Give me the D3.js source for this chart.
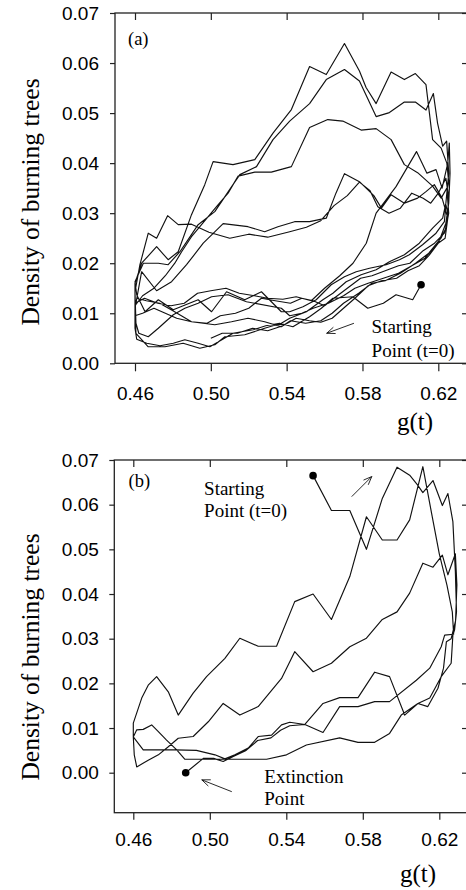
<!DOCTYPE html>
<html>
<head>
<meta charset="utf-8">
<script src="https://d3js.org/d3.v7.min.js"></script>
<style>
body { margin: 0; background: #fff; }
svg { display: block; }
</style>
</head>
<body>
<svg id="chart" width="466" height="890"></svg>
<script>
// axis ticks
var xTicks = [0.46, 0.50, 0.54, 0.58, 0.62];
var yTicks = [0.00, 0.01, 0.02, 0.03, 0.04, 0.05, 0.06, 0.07];

// panel (a): trajectory pieces [g(t), density], in drawing order
var aStart = [[0.6109,0.0157],[0.6065,0.0127],[0.5977,0.0137],[0.5910,0.0120],[0.5828,0.0110],[0.5749,0.0133],[0.5644,0.0130],[0.5583,0.0110],[0.5521,0.0093],[0.5433,0.0073],[0.5363,0.0080],[0.5290,0.0075],[0.5223,0.0067],[0.5117,0.0060],[0.4995,0.0033],[0.4933,0.0040],[0.4863,0.0047],[0.4802,0.0040],[0.4732,0.0035],[0.4662,0.0040],[0.4609,0.0048],[0.4600,0.0070]];
var aLoop1 = [[0.4600,0.0110],[0.4600,0.0160],[0.4635,0.0200],[0.4714,0.0233],[0.4775,0.0207],[0.4828,0.0223],[0.4898,0.0297],[0.4968,0.0357],[0.5012,0.0403],[0.5117,0.0397],[0.5232,0.0407],[0.5328,0.0460],[0.5425,0.0507],[0.5521,0.0593],[0.5609,0.0577],[0.5705,0.0639],[0.5784,0.0584],[0.5819,0.0551],[0.5872,0.0519],[0.5951,0.0582],[0.6021,0.0567],[0.6079,0.0579],[0.6135,0.0557],[0.6170,0.0447],[0.6215,0.0430],[0.6245,0.0400],[0.6258,0.0350],[0.6250,0.0300]];
var aBack1 = [[0.6240,0.0317],[0.6232,0.0283],[0.6188,0.0260],[0.6117,0.0237],[0.6047,0.0217],[0.5995,0.0207],[0.5925,0.0197],[0.5837,0.0190],[0.5767,0.0183],[0.5705,0.0173],[0.5635,0.0157],[0.5556,0.0127],[0.5486,0.0113],[0.5416,0.0103],[0.5372,0.0103],[0.5267,0.0143],[0.5179,0.0127],[0.5083,0.0143],[0.5004,0.0103],[0.4933,0.0127],[0.4802,0.0107],[0.4723,0.0127],[0.4653,0.0103],[0.4609,0.0137]];
var aLoop2 = [[0.4600,0.0163],[0.4644,0.0200],[0.4723,0.0200],[0.4775,0.0197],[0.4837,0.0223],[0.4933,0.0277],[0.5021,0.0303],[0.5117,0.0357],[0.5153,0.0377],[0.5241,0.0393],[0.5328,0.0447],[0.5416,0.0484],[0.5521,0.0519],[0.5609,0.0567],[0.5705,0.0587],[0.5784,0.0564],[0.5872,0.0493],[0.5942,0.0501],[0.6021,0.0522],[0.6079,0.0522],[0.6135,0.0506],[0.6174,0.0539],[0.6196,0.0480],[0.6223,0.0434],[0.6244,0.0444],[0.6255,0.0380],[0.6240,0.0320],[0.6223,0.0290]];
var aBack2 = [[0.6170,0.0270],[0.6100,0.0240],[0.6021,0.0217],[0.5942,0.0203],[0.5872,0.0187],[0.5793,0.0177],[0.5714,0.0163],[0.5644,0.0140],[0.5591,0.0127],[0.5504,0.0103],[0.5416,0.0090],[0.5372,0.0080],[0.5284,0.0070],[0.5179,0.0057],[0.5074,0.0053],[0.5021,0.0037],[0.4942,0.0030],[0.4854,0.0040],[0.4758,0.0033],[0.4670,0.0033],[0.4605,0.0060]];
var aLoop3 = [[0.4600,0.0115],[0.4640,0.0135],[0.4700,0.0150],[0.4760,0.0175],[0.4810,0.0200],[0.4846,0.0223],[0.4898,0.0253],[0.4951,0.0277],[0.5030,0.0313],[0.5091,0.0340],[0.5144,0.0374],[0.5232,0.0382],[0.5319,0.0382],[0.5425,0.0393],[0.5521,0.0471],[0.5617,0.0487],[0.5696,0.0484],[0.5793,0.0466],[0.5872,0.0469],[0.5951,0.0447],[0.6021,0.0397],[0.6091,0.0381],[0.6170,0.0354],[0.6215,0.0330],[0.6245,0.0350],[0.6255,0.0300],[0.6240,0.0270]];
var aBack3 = [[0.6214,0.0250],[0.6150,0.0220],[0.6080,0.0200],[0.6000,0.0180],[0.5920,0.0165],[0.5850,0.0160],[0.5780,0.0140],[0.5700,0.0120],[0.5640,0.0100],[0.5580,0.0085],[0.5500,0.0080],[0.5420,0.0085],[0.5372,0.0073],[0.5284,0.0083],[0.5196,0.0090],[0.5109,0.0083],[0.5021,0.0077],[0.4898,0.0083],[0.4800,0.0105],[0.4730,0.0120],[0.4660,0.0125],[0.4610,0.0130]];
var aLoop4 = [[0.4600,0.0110],[0.4635,0.0183],[0.4714,0.0145],[0.4793,0.0163],[0.4872,0.0197],[0.4960,0.0240],[0.5065,0.0279],[0.5196,0.0273],[0.5284,0.0263],[0.5354,0.0273],[0.5442,0.0283],[0.5521,0.0283],[0.5609,0.0290],[0.5660,0.0340],[0.5705,0.0379],[0.5784,0.0363],[0.5860,0.0335],[0.5900,0.0310],[0.5951,0.0337],[0.6021,0.0320],[0.6091,0.0330],[0.6135,0.0343],[0.6179,0.0357],[0.6220,0.0330],[0.6250,0.0290],[0.6236,0.0250]];
var aBack4 = [[0.6188,0.0237],[0.6130,0.0210],[0.6060,0.0195],[0.5990,0.0180],[0.5910,0.0170],[0.5830,0.0160],[0.5760,0.0150],[0.5700,0.0135],[0.5620,0.0120],[0.5540,0.0110],[0.5480,0.0100],[0.5416,0.0095],[0.5372,0.0110],[0.5188,0.0123],[0.5091,0.0137],[0.5004,0.0133],[0.4933,0.0120],[0.4863,0.0110],[0.4802,0.0097],[0.4723,0.0070],[0.4670,0.0053],[0.4620,0.0060],[0.4605,0.0080]];
var aLoop5 = [[0.4600,0.0143],[0.4626,0.0197],[0.4670,0.0260],[0.4714,0.0250],[0.4772,0.0295],[0.4828,0.0277],[0.4898,0.0278],[0.4990,0.0262],[0.5100,0.0250],[0.5200,0.0258],[0.5300,0.0252],[0.5416,0.0263],[0.5504,0.0272],[0.5580,0.0285],[0.5650,0.0315],[0.5720,0.0335],[0.5784,0.0362],[0.5840,0.0345],[0.5881,0.0313],[0.5940,0.0300],[0.6000,0.0310],[0.6060,0.0340],[0.6120,0.0330],[0.6160,0.0320],[0.6200,0.0340],[0.6240,0.0370],[0.6255,0.0330],[0.6245,0.0280]];
var aBack5 = [[0.6232,0.0260],[0.6180,0.0240],[0.6120,0.0225],[0.6050,0.0200],[0.5990,0.0195],[0.5920,0.0185],[0.5850,0.0175],[0.5790,0.0170],[0.5720,0.0150],[0.5650,0.0130],[0.5600,0.0115],[0.5540,0.0125],[0.5480,0.0130],[0.5420,0.0120],[0.5340,0.0125],[0.5267,0.0130],[0.5200,0.0110],[0.5130,0.0100],[0.5050,0.0095],[0.4980,0.0080],[0.4898,0.0083],[0.4820,0.0090],[0.4760,0.0100],[0.4700,0.0110],[0.4640,0.0100],[0.4600,0.0095]];
var aLoop6 = [[0.4600,0.0120],[0.4650,0.0130],[0.4720,0.0120],[0.4790,0.0115],[0.4860,0.0120],[0.4930,0.0140],[0.5000,0.0145],[0.5080,0.0150],[0.5150,0.0140],[0.5230,0.0135],[0.5300,0.0130],[0.5380,0.0128],[0.5450,0.0133],[0.5530,0.0125],[0.5600,0.0150],[0.5680,0.0175],[0.5750,0.0200],[0.5820,0.0240],[0.5872,0.0300],[0.5977,0.0353],[0.6085,0.0423],[0.6140,0.0380],[0.6188,0.0387],[0.6220,0.0350],[0.6250,0.0400],[0.6258,0.0440],[0.6262,0.0380],[0.6255,0.0320],[0.6240,0.0280]];
var aBack6 = [[0.6200,0.0240],[0.6150,0.0215],[0.6100,0.0195],[0.6040,0.0185],[0.5980,0.0170],[0.5900,0.0165],[0.5830,0.0155],[0.5760,0.0130],[0.5700,0.0110],[0.5640,0.0090],[0.5580,0.0082],[0.5520,0.0085],[0.5450,0.0090],[0.5380,0.0075],[0.5300,0.0065],[0.5220,0.0070],[0.5140,0.0060],[0.5060,0.0060],[0.5000,0.0050]];

// panel (b): trajectory pieces, start point to extinction
var bLoop1 = [[0.5540,0.0665],[0.5636,0.0587],[0.5732,0.0587],[0.5819,0.0500],[0.5902,0.0614],[0.5979,0.0684],[0.6045,0.0666],[0.6085,0.0645],[0.6114,0.0627],[0.6167,0.0654],[0.6216,0.0598],[0.6245,0.0625],[0.6271,0.0562],[0.6284,0.0450],[0.6290,0.0360],[0.6280,0.0320]];
var bBack1 = [[0.6271,0.0308],[0.6262,0.0245],[0.6210,0.0215],[0.6150,0.0167],[0.6088,0.0155],[0.6001,0.0129],[0.5940,0.0088],[0.5862,0.0068],[0.5775,0.0068],[0.5679,0.0078],[0.5505,0.0062],[0.5401,0.0040],[0.5297,0.0030],[0.4870,0.0030],[0.4827,0.0051],[0.4774,0.0073],[0.4731,0.0092],[0.4696,0.0107],[0.4652,0.0097],[0.4618,0.0096],[0.4600,0.0080]];
var bLoop2 = [[0.4600,0.0111],[0.4644,0.0167],[0.4678,0.0196],[0.4722,0.0215],[0.4783,0.0181],[0.4835,0.0129],[0.4913,0.0178],[0.4983,0.0215],[0.5079,0.0256],[0.5157,0.0301],[0.5253,0.0283],[0.5349,0.0283],[0.5444,0.0383],[0.5540,0.0400],[0.5636,0.0343],[0.5732,0.0439],[0.5819,0.0573],[0.5902,0.0521],[0.5979,0.0521],[0.6045,0.0566],[0.6114,0.0685],[0.6160,0.0580],[0.6200,0.0490],[0.6240,0.0420],[0.6268,0.0360],[0.6275,0.0310]];
var bBack2 = [[0.6228,0.0308],[0.6210,0.0282],[0.6150,0.0234],[0.6080,0.0207],[0.5940,0.0159],[0.5862,0.0159],[0.5775,0.0148],[0.5679,0.0148],[0.5592,0.0090],[0.5497,0.0108],[0.5418,0.0113],[0.5375,0.0107],[0.5323,0.0084],[0.5253,0.0081],[0.5201,0.0055],[0.5131,0.0040],[0.5079,0.0031],[0.5027,0.0040],[0.4930,0.0050],[0.4818,0.0051],[0.4652,0.0051],[0.4600,0.0080],[0.4605,0.0040],[0.4618,0.0013]];
var bLoop3 = [[0.4678,0.0028],[0.4731,0.0040],[0.4783,0.0058],[0.4835,0.0077],[0.4913,0.0081],[0.4992,0.0114],[0.5070,0.0155],[0.5157,0.0129],[0.5253,0.0148],[0.5375,0.0211],[0.5444,0.0271],[0.5540,0.0226],[0.5636,0.0245],[0.5732,0.0282],[0.5819,0.0301],[0.5902,0.0343],[0.5979,0.0360],[0.6045,0.0402],[0.6114,0.0469],[0.6167,0.0460],[0.6216,0.0487],[0.6245,0.0443],[0.6284,0.0490],[0.6292,0.0420],[0.6285,0.0340],[0.6262,0.0300]];
var bBack3 = [[0.6237,0.0293],[0.6222,0.0234],[0.6193,0.0189],[0.6140,0.0148],[0.6088,0.0155],[0.6019,0.0129],[0.5940,0.0215],[0.5862,0.0225],[0.5775,0.0168],[0.5679,0.0168],[0.5592,0.0155],[0.5497,0.0108],[0.5418,0.0105],[0.5370,0.0095],[0.5320,0.0078],[0.5250,0.0072],[0.5190,0.0050],[0.5120,0.0036],[0.5070,0.0025],[0.5020,0.0032],[0.4966,0.0032],[0.4874,0.0000]];

// marked points
var aDots = [[0.6109,0.0157]];
var bDots = [[0.5540,0.0665],[0.4874,0.0000]];

var svg = d3.select("#chart");
var fmt = d3.format(".2f");

var panels = [
  {
    top: 13, bottom: 363.3, left: 115, right: 468,
    x46: 135, x62: 438.3, y0: 363.3, y7: 13,
    xTick: 8, xPad: 15, yPad: 11,
    tag: "(a)", tagAt: [0.4563, 0.0637],
    yTitleY: 202, gtX: 397, gtY: 430,
    pieces: [aStart, aLoop1, aBack1, aLoop2, aBack2, aLoop3, aBack3, aLoop4, aBack4, aLoop5, aBack5, aLoop6, aBack6],
    dots: aDots,
    arrows: [[[0.5755, 0.0080], [0.5611, 0.0060]]],
    notes: [["Starting", 0.5848, 0.0060], ["Point (t=0)", 0.5848, 0.00132]]
  },
  {
    top: 460, bottom: 812.7, left: 114.3, right: 468,
    x46: 133.3, x62: 439.3, y0: 772.7, y7: 460,
    xTick: 7, xPad: 13, yPad: 10.5,
    tag: "(b)", tagAt: [0.4575, 0.0640],
    yTitleY: 657, gtX: 400, gtY: 882,
    pieces: [bLoop1, bBack1, bLoop2, bBack2, bLoop3, bBack3],
    dots: bDots,
    arrows: [[[0.5742, 0.0618], [0.5847, 0.0663]], [[0.5115, -0.00425], [0.4958, -0.0016]]],
    notes: [["Starting", 0.4970, 0.0622], ["Point (t=0)", 0.4970, 0.0573],
            ["Extinction", 0.5285, -0.00224], ["Point", 0.5285, -0.00723]]
  }
];

panels.forEach(function(p) {
  var x = d3.scaleLinear().domain([0.46, 0.62]).range([p.x46, p.x62]);
  var y = d3.scaleLinear().domain([0, 0.07]).range([p.y0, p.y7]);
  var g = svg.append("g");

  var styleAxis = function(a) {
    a.select(".domain").remove();
    a.selectAll(".tick line").attr("stroke", "#222").attr("stroke-width", 1.2);
    a.selectAll(".tick text")
      .attr("fill", "#000")
      .style("font-family", "'Liberation Sans', Arial, sans-serif")
      .style("font-size", "19px");
  };

  g.append("g")
    .attr("transform", "translate(" + p.left + ",0)")
    .call(d3.axisLeft(y).tickValues(yTicks).tickSize(5).tickPadding(p.yPad).tickFormat(fmt))
    .call(styleAxis);

  g.append("g")
    .attr("transform", "translate(0," + p.bottom + ")")
    .call(d3.axisBottom(x).tickValues(xTicks).tickSize(p.xTick).tickPadding(p.xPad).tickFormat(fmt))
    .call(styleAxis);

  g.append("g")
    .attr("transform", "translate(0," + p.top + ")")
    .call(d3.axisTop(x).tickValues(xTicks).tickSize(-7).tickFormat(""))
    .call(styleAxis);

  g.append("g")
    .attr("transform", "translate(" + p.right + ",0)")
    .call(d3.axisRight(y).tickValues(yTicks).tickSize(-6).tickFormat(""))
    .call(styleAxis);

  // frame
  g.append("rect")
    .attr("x", p.left).attr("y", p.top)
    .attr("width", p.right - p.left).attr("height", p.bottom - p.top)
    .attr("fill", "none").attr("stroke", "#222").attr("stroke-width", 1.3);

  // trajectory
  var line = d3.line().x(function(d) { return x(d[0]); }).y(function(d) { return y(d[1]); });
  var path = [];
  p.pieces.forEach(function(s) { path = path.concat(s); });
  g.append("path")
    .datum(path)
    .attr("d", line)
    .attr("fill", "none")
    .attr("stroke", "#111")
    .attr("stroke-width", 1.15)
    .attr("stroke-linejoin", "round");

  g.selectAll("circle.pt")
    .data(p.dots)
    .enter().append("circle")
    .attr("class", "pt")
    .attr("cx", function(d) { return x(d[0]); })
    .attr("cy", function(d) { return y(d[1]); })
    .attr("r", 3.8)
    .attr("fill", "#000");

  // annotation arrows (open heads)
  p.arrows.forEach(function(a) {
    var x1 = x(a[0][0]), y1 = y(a[0][1]), x2 = x(a[1][0]), y2 = y(a[1][1]);
    var ang = Math.atan2(y2 - y1, x2 - x1);
    var hl = 9, spread = 0.38;
    var h1 = [x2 - hl * Math.cos(ang - spread), y2 - hl * Math.sin(ang - spread)];
    var h2 = [x2 - hl * Math.cos(ang + spread), y2 - hl * Math.sin(ang + spread)];
    g.append("path")
      .attr("d", "M" + x1 + "," + y1 + "L" + x2 + "," + y2 + "M" + h1 + "L" + x2 + "," + y2 + "L" + h2)
      .attr("fill", "none").attr("stroke", "#111").attr("stroke-width", 0.9);
  });

  g.selectAll("text.note")
    .data(p.notes)
    .enter().append("text")
    .attr("class", "note")
    .attr("x", function(d) { return x(d[1]); })
    .attr("y", function(d) { return y(d[2]); })
    .style("font-family", "'Liberation Serif', 'Times New Roman', serif")
    .style("font-size", "19px")
    .text(function(d) { return d[0]; });

  g.append("text")
    .attr("x", x(p.tagAt[0]))
    .attr("y", y(p.tagAt[1]))
    .style("font-family", "'Liberation Serif', 'Times New Roman', serif")
    .style("font-size", "18.5px")
    .text(p.tag);

  g.append("text")
    .attr("transform", "translate(38.5," + p.yTitleY + ") rotate(-90)")
    .attr("text-anchor", "middle")
    .style("font-family", "'Liberation Serif', 'Times New Roman', serif")
    .style("font-size", "25.5px")
    .text("Density of burning trees");

  g.append("text")
    .attr("x", p.gtX)
    .attr("y", p.gtY)
    .style("font-family", "'Liberation Serif', 'Times New Roman', serif")
    .style("font-size", "25px")
    .text("g(t)");
});
</script>
</body>
</html>
